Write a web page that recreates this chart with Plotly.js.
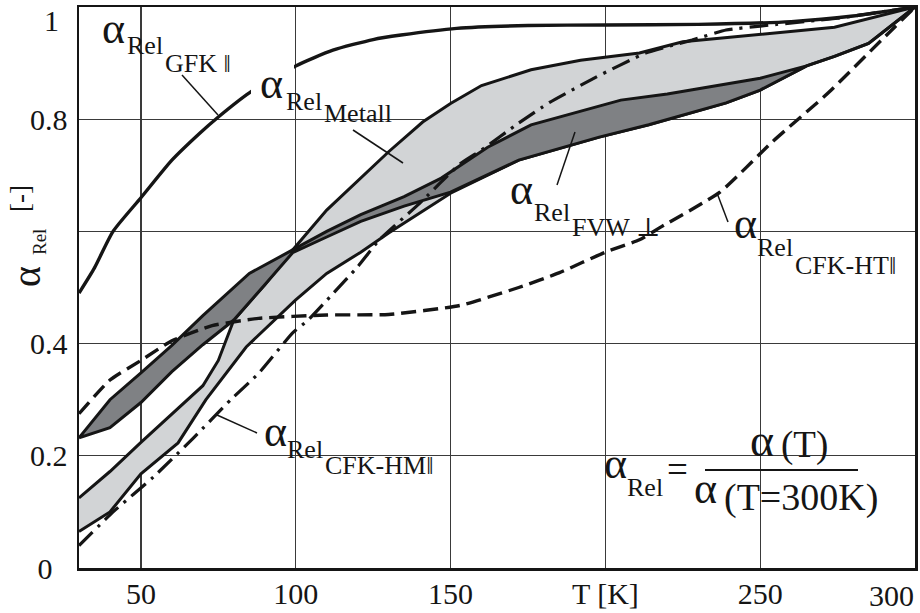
<!DOCTYPE html>
<html>
<head>
<meta charset="utf-8">
<script src="https://cdn.plot.ly/plotly-3.0.1.min.js"></script>
<style>html,body{margin:0;padding:0;background:#fff;}#chart{width:920px;height:613px;}</style>
</head>
<body>
<div id="chart"></div>
<script>
// ---- data (T in K, alpha_rel) ----
const gfkT = [30, 35, 41, 50, 60, 69, 75, 85, 100, 112, 125, 134, 152, 175, 200, 230, 260, 280, 300];
const gfkA = [0.49, 0.535, 0.6, 0.66, 0.727, 0.775, 0.804, 0.847, 0.895, 0.923, 0.942, 0.95, 0.962, 0.967, 0.968, 0.969, 0.974, 0.984, 1.0];

const metUpT = [30, 40, 50, 60, 70, 75, 80, 90, 99, 110, 121, 130, 141, 150, 160, 176, 192, 211, 225, 252, 274, 300];
const metUpA = [0.125, 0.172, 0.224, 0.274, 0.325, 0.37, 0.442, 0.505, 0.567, 0.638, 0.695, 0.742, 0.795, 0.828, 0.86, 0.888, 0.905, 0.918, 0.938, 0.953, 0.964, 1.0];
const metLoT = [30, 40, 50, 62, 71, 84, 100, 110, 121, 130, 150, 172, 198, 214, 239, 250, 265, 274, 285, 300];
const metLoA = [0.065, 0.1, 0.168, 0.223, 0.3, 0.394, 0.478, 0.525, 0.563, 0.597, 0.668, 0.727, 0.768, 0.79, 0.829, 0.852, 0.895, 0.912, 0.935, 1.0];

const fvwUpT = [30, 40, 50, 60, 70, 85, 99, 110, 121, 135, 147, 162, 176, 192, 205, 220, 250, 265, 274, 285, 300];
const fvwUpA = [0.232, 0.30, 0.348, 0.397, 0.45, 0.525, 0.567, 0.6, 0.63, 0.662, 0.695, 0.75, 0.79, 0.815, 0.834, 0.845, 0.873, 0.895, 0.912, 0.935, 1.0];
const fvwLoT = [30, 40, 50, 60, 70, 80, 90, 99, 110, 121, 135, 150, 172, 198, 214, 239, 250, 265, 274, 285, 300];
const fvwLoA = [0.232, 0.25, 0.295, 0.35, 0.398, 0.442, 0.505, 0.562, 0.59, 0.618, 0.645, 0.67, 0.727, 0.768, 0.79, 0.829, 0.852, 0.895, 0.912, 0.935, 1.0];

const hmT = [30, 41, 54, 67, 79, 88, 99, 104, 111, 120, 127, 140, 153, 160, 172, 182, 197, 213, 228, 239, 250, 275, 300];
const hmA = [0.04, 0.1, 0.162, 0.232, 0.3, 0.347, 0.419, 0.442, 0.483, 0.537, 0.585, 0.65, 0.72, 0.745, 0.793, 0.83, 0.875, 0.918, 0.941, 0.959, 0.966, 0.98, 1.0];

const htT = [30, 40, 50, 60, 73, 88, 110, 130, 153, 172, 185, 200, 211, 218, 237, 254, 272, 289, 300];
const htA = [0.275, 0.335, 0.37, 0.405, 0.432, 0.445, 0.451, 0.452, 0.468, 0.5, 0.526, 0.563, 0.585, 0.608, 0.67, 0.76, 0.847, 0.94, 1.0];

const xTickVals = [50, 100, 150, 200, 250, 300];
const xTickText = ["50", "100", "150", "T [K]", "250", ""];
const yTickVals = [0, 0.2, 0.4, 0.6, 0.8, 1];
const yTickText = ["0\u2007", "0.2", "0.4", "", "0.8", ""];

// ---- styling / layout helpers ----
const FONT = "Liberation Serif, Tinos, DejaVu Serif, serif";
const INK = "#151515";
const L = 79, R = 915, T0 = 7, B = 568;
function px(x) { return (x - L) / (R - L); }
function py(y) { return (B - y) / (B - T0); }
function txt(text, x, y, size, extra) {
  return Object.assign({
    xref: "paper", yref: "paper", x: px(x), y: py(y),
    xanchor: "left", yanchor: "middle", showarrow: false, text: text,
    font: { family: FONT, size: size, color: INK }
  }, extra || {});
}
function box(x0, y0, x1, y1, layer) {
  return { type: "rect", xref: "paper", yref: "paper", x0: px(x0), x1: px(x1), y0: py(y1), y1: py(y0),
           fillcolor: "#ffffff", line: { width: 0 }, layer: layer };
}
function seg(x0, y0, x1, y1, w) {
  return { type: "line", xref: "paper", yref: "paper", x0: px(x0), y0: py(y0), x1: px(x1), y1: py(y1),
           line: { color: INK, width: w || 1.5 }, layer: "above" };
}

const traces = [
  { x: metUpT.concat(metLoT.slice().reverse()), y: metUpA.concat(metLoA.slice().reverse()),
    mode: "lines", fill: "toself", fillcolor: "#d2d4d6", line: { color: INK, width: 3 }, hoverinfo: "skip" },
  { x: fvwUpT.concat(fvwLoT.slice().reverse()), y: fvwUpA.concat(fvwLoA.slice().reverse()),
    mode: "lines", fill: "toself", fillcolor: "#7f8184", line: { color: INK, width: 3 }, hoverinfo: "skip" },
  { x: htT, y: htA, mode: "lines", line: { color: INK, width: 3.4, dash: "15px,7px", shape: "spline", smoothing: 0.5 } },
  { x: hmT, y: hmA, mode: "lines", line: { color: INK, width: 3.2, dash: "19px,7px,3px,7px", shape: "spline", smoothing: 0.4 } },
  { x: gfkT, y: gfkA, mode: "lines", line: { color: INK, width: 3.4, shape: "spline", smoothing: 0.6 } }
];

const shapes = [
  box(98, 17, 240, 74, "between"),
  box(255, 62, 395, 128, "between"),
  box(517, 153, 660, 275, "between"),
  box(660, 225, 860, 275, "between"),
  box(255, 420, 446, 473, "between"),
  box(582, 407, 902, 530, "between"),
  box(251, 60, 294, 100, "above"),
  seg(182, 75, 218, 115),
  seg(353, 130, 403, 163),
  seg(557, 185, 575, 132),
  seg(717, 193, 728, 222),
  seg(217, 415, 257, 433),
  seg(705, 470, 858, 470, 2)
];

const A = "\u03b1";
const annotations = [
  // GFK
  txt(A, 100, 29, 44), txt("Rel", 125, 46, 26), txt("GFK \u2016", 163, 64, 26),
  // Metall
  txt(A, 258, 84, 44), txt("Rel", 284, 101, 26), txt("Metall", 322, 114, 26),
  // FVW
  txt(A, 508, 189, 44), txt("Rel", 532, 212, 26), txt("FVW \u22a5", 570, 227, 26),
  // CFK-HT
  txt(A, 732, 223, 44), txt("Rel", 755, 247, 26), txt("CFK-HT\u2016", 793, 265, 26),
  // CFK-HM
  txt(A, 262, 431, 44), txt("Rel", 285, 449, 26), txt("CFK-HM\u2016", 323, 466, 26),
  // formula
  txt(A, 602, 463, 44), txt("Rel", 625, 487, 26), txt("=", 665, 469, 37),
  txt(A, 748, 440, 46), txt("(T)", 779, 445, 37),
  txt(A, 692, 488, 44), txt("(T=300K)", 722, 497, 38),
  // y title
  txt(A, 26, 277, 40, { xanchor: "center", textangle: -90 }),
  txt("Rel", 39, 242, 19, { xanchor: "center", textangle: -90 }),
  txt("[-]", 20, 199, 27, { xanchor: "center", textangle: -90 }),
  // shifted end tick labels
  txt("1", 51, 21, 30, { xanchor: "center" }),
  txt("300", 891, 595, 30, { xanchor: "center" })
];

const layout = {
  width: 920, height: 613,
  margin: { l: L, r: 920 - R, t: T0, b: 613 - B, pad: 0 },
  paper_bgcolor: "#ffffff", plot_bgcolor: "#ffffff",
  showlegend: false,
  font: { family: FONT, color: INK },
  xaxis: {
    range: [30, 300], tickmode: "array", tickvals: xTickVals, ticktext: xTickText,
    showgrid: true, gridcolor: "#3a3a3a", gridwidth: 1.3, zeroline: false,
    showline: true, linecolor: INK, linewidth: 2.5, mirror: true, ticks: "",
    tickfont: { family: FONT, size: 30, color: INK }, ticklabelstandoff: -3, fixedrange: true
  },
  yaxis: {
    range: [0, 1], tickmode: "array", tickvals: yTickVals, ticktext: yTickText,
    showgrid: true, gridcolor: "#3a3a3a", gridwidth: 1.3, zeroline: false,
    showline: true, linecolor: INK, linewidth: 2.5, mirror: true, ticks: "",
    tickfont: { family: FONT, size: 30, color: INK }, ticklabelstandoff: 3, fixedrange: true
  },
  shapes: shapes,
  annotations: annotations
};

Plotly.newPlot("chart", traces, layout, { staticPlot: true, displayModeBar: false });
</script>
</body>
</html>
